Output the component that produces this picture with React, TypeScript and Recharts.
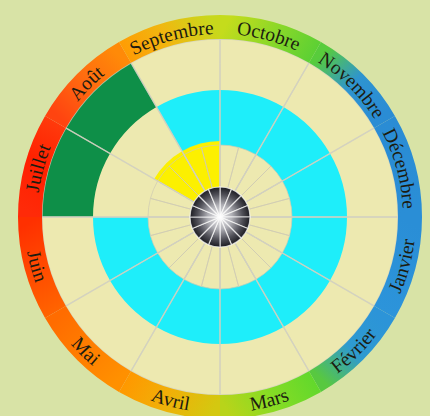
import React from 'react';
import { PieChart, Pie, Cell } from 'recharts';

// Mois, dans le sens horaire à partir du haut
const mois = ['Octobre', 'Novembre', 'Décembre', 'Janvier', 'Février', 'Mars', 'Avril', 'Mai', 'Juin', 'Juillet', 'Août', 'Septembre'];
const duree = [1, 1, 1, 1, 1, 1, 1, 1, 1, 1, 1, 1];
const anneauCyan = [1, 1, 1, 1, 1, 1, 1, 1, 1, 0, 0, 1];
const secteursVerts = [0, 0, 0, 0, 0, 0, 0, 0, 0, 1, 1, 0];
const secteursJaunes = [0, 0, 0, 0, 0, 0, 0, 0, 0, 0, 1, 1];
const fond = [1];
const grilleFine = [1, 1, 1, 1, 1, 1, 1, 1, 1, 1, 1, 1, 1, 1, 1, 1, 1, 1, 1, 1, 1, 1, 1, 1];
const rayonsCentre = [1, 1, 1, 1, 1, 1, 1, 1, 1, 1, 1, 1, 1, 1, 1, 1];

const data = mois.map((m, i) => ({
    mois: m,
    duree: duree[i],
    cyan: anneauCyan[i],
    vert: secteursVerts[i],
    jaune: secteursJaunes[i],
}));

// dégradé de l'anneau extérieur, mois par mois (sens horaire)
const degradeMois: string[][] = [
    ['#c4dc1c', '#8cd828', '#5cd034'],
    ['#58cc3c', '#2e94d0', '#2a8cd4'],
    ['#2a8cd4', '#2a8ed6'],
    ['#2a8ed6', '#2c94da'],
    ['#2c94d8', '#2e9ad0', '#58c840'],
    ['#62d82c', '#86dc24', '#b8d41a'],
    ['#d4c810', '#f0b008', '#ff9800'],
    ['#ff9000', '#ff6c00'],
    ['#ff6400', '#ff3000'],
    ['#ff2a08', '#ff2000', '#ff3a0c'],
    ['#ff4410', '#ff6a10', '#ff8a08'],
    ['#ff9c04', '#f0b810', '#c8d81c'],
];

const CX = 220;
const CY = 217;
const RAD = Math.PI / 180;

const LabelMois = (props: any) => {
    const { cx, cy, midAngle, index } = props;
    const theta = (((90 - midAngle) % 360) + 360) % 360; // sens horaire depuis le haut
    const bas = theta > 90 && theta < 270;
    const r = bas ? 196 : 183;
    const pt = (a: number) => [cx + r * Math.sin(a * RAD), cy - r * Math.cos(a * RAD)];
    const [x1, y1] = pt(theta - 45);
    const [x2, y2] = pt(theta + 45);
    const d = bas
        ? `M${x2},${y2} A${r},${r} 0 0 0 ${x1},${y1}`
        : `M${x1},${y1} A${r},${r} 0 0 1 ${x2},${y2}`;
    return (
        <g>
            <path id={`arc-mois-${index}`} d={d} fill="none" stroke="none" />
            <text fontFamily="'Liberation Serif', serif" fontSize={19.5} fill="#1c1c10">
                <textPath href={`#arc-mois-${index}`} startOffset="50%" textAnchor="middle">
                    {mois[index]}
                </textPath>
            </text>
        </g>
    );
};

export default function App() {
    return (
        <div style={{ width: 430, height: 416, background: '#d8e3a6' }}>
            <style>{'body{margin:0}'}</style>
            <PieChart width={430} height={416} margin={{ top: 0, right: 0, bottom: 0, left: 0 }}>
                <defs>
                    {degradeMois.map((stops, i) => {
                        const t = (15 + 30 * i) * RAD;
                        return (
                            <linearGradient
                                key={i}
                                id={`anneau-${i}`}
                                x1={0.5 - 0.5 * Math.cos(t)}
                                y1={0.5 - 0.5 * Math.sin(t)}
                                x2={0.5 + 0.5 * Math.cos(t)}
                                y2={0.5 + 0.5 * Math.sin(t)}
                            >
                                {stops.map((c, j) => (
                                    <stop key={j} offset={stops.length === 1 ? 0 : j / (stops.length - 1)} stopColor={c} />
                                ))}
                            </linearGradient>
                        );
                    })}
                    <radialGradient id="centre" gradientUnits="userSpaceOnUse" cx={CX} cy={CY} r={30}>
                        <stop offset={0} stopColor="#f2f2f2" />
                        <stop offset={0.4} stopColor="#b0b0b6" />
                        <stop offset={0.75} stopColor="#505058" />
                        <stop offset={1} stopColor="#1c1c22" />
                    </radialGradient>
                </defs>

                {/* disque de fond */}
                <Pie data={fond.map((v) => ({ v }))} dataKey="v" cx={CX} cy={CY} outerRadius={178}
                    fill="#ede9b0" stroke="none" isAnimationActive={false} />

                {/* anneau cyan */}
                <Pie data={data} dataKey="duree" nameKey="mois" cx={CX} cy={CY} innerRadius={72} outerRadius={127}
                    startAngle={90} endAngle={-270} stroke="none" isAnimationActive={false}>
                    {data.map((d, i) => (
                        <Cell key={i} fill={d.cyan ? '#1eeefa' : 'transparent'} />
                    ))}
                </Pie>

                {/* secteurs verts */}
                <Pie data={data} dataKey="duree" nameKey="mois" cx={CX} cy={CY} innerRadius={127} outerRadius={178}
                    startAngle={90} endAngle={-270} stroke="none" isAnimationActive={false}>
                    {data.map((d, i) => (
                        <Cell key={i} fill={d.vert ? '#0e8f48' : 'transparent'} />
                    ))}
                </Pie>

                {/* secteurs jaunes */}
                <Pie data={data} dataKey="duree" nameKey="mois" cx={CX} cy={CY} innerRadius={30} outerRadius={76}
                    startAngle={90} endAngle={-270} stroke="none" isAnimationActive={false}>
                    {data.map((d, i) => (
                        <Cell key={i} fill={d.jaune ? '#fcf000' : 'transparent'} />
                    ))}
                </Pie>

                {/* grille */}
                <Pie data={grilleFine.map((v) => ({ v }))} dataKey="v" cx={CX} cy={CY} outerRadius={72}
                    startAngle={90} endAngle={-270} fill="none" stroke="#cfcbb4" strokeOpacity={0.7} strokeWidth={1}
                    isAnimationActive={false} />
                <Pie data={data} dataKey="duree" nameKey="mois" cx={CX} cy={CY} outerRadius={178}
                    startAngle={90} endAngle={-270} fill="none" stroke="#d2d0c0" strokeOpacity={0.75} strokeWidth={1.3}
                    isAnimationActive={false} />

                {/* anneau des mois */}
                <Pie data={data} dataKey="duree" nameKey="mois" cx={CX} cy={CY} innerRadius={178} outerRadius={202}
                    startAngle={90} endAngle={-270} stroke="none" isAnimationActive={false}
                    label={LabelMois} labelLine={false}>
                    {data.map((d, i) => (
                        <Cell key={i} fill={`url(#anneau-${i})`} />
                    ))}
                </Pie>

                {/* centre */}
                <Pie data={rayonsCentre.map((v) => ({ v }))} dataKey="v" cx={CX} cy={CY} outerRadius={30}
                    startAngle={90} endAngle={-270} fill="url(#centre)" stroke="#ffffff" strokeOpacity={0.7}
                    strokeWidth={1.2} isAnimationActive={false} />
            </PieChart>
        </div>
    );
}
